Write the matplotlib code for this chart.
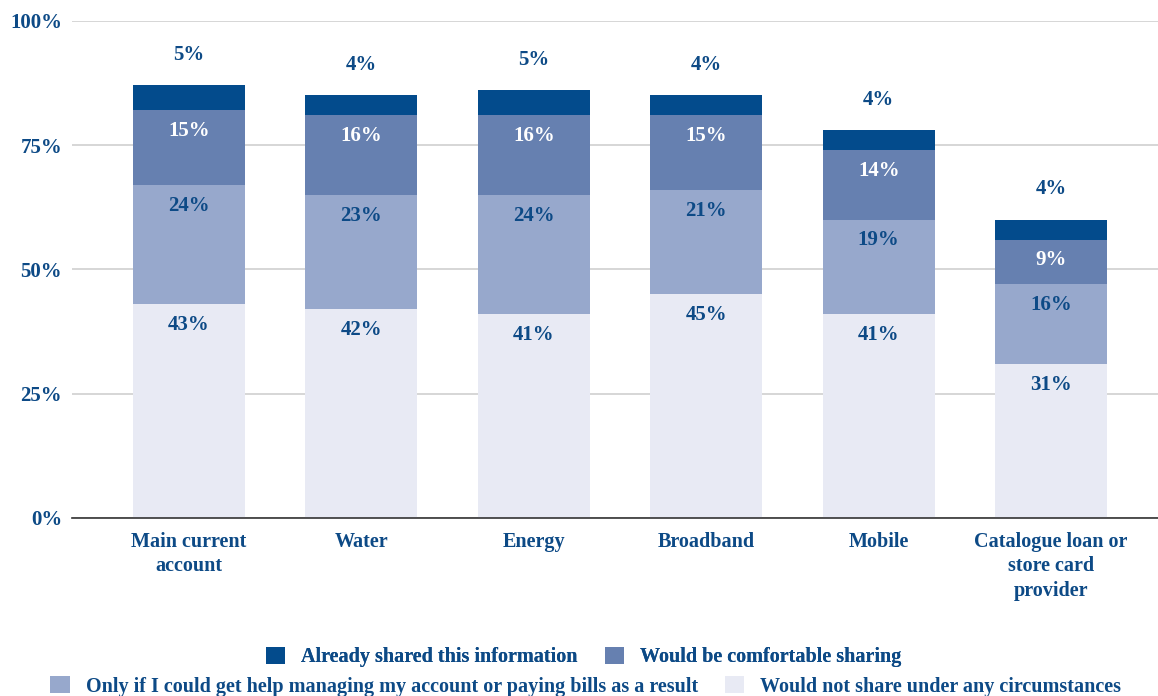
import matplotlib
matplotlib.use("Agg")
import matplotlib.pyplot as plt
from matplotlib.patches import Patch
import numpy as np

categories = ["Main current\naccount", "Water", "Energy", "Broadband", "Mobile",
              "Catalogue loan or\nstore card\nprovider"]
never_share = [43, 42, 41, 45, 41, 31]
only_if_help = [24, 23, 24, 21, 19, 16]
comfortable = [15, 16, 16, 15, 14, 9]
already_shared = [5, 4, 5, 4, 4, 4]

series_names = ["Would not share under any circumstances",
                "Only if I could get help managing my account or paying bills as a result",
                "Would be comfortable sharing",
                "Already shared this information"]
colors = ["#e8eaf4", "#97a8cc", "#6680b0", "#034b8c"]
text_colors = ["#0d4a86", "#0d4a86", "#ffffff", "#0d4a86"]
ytick_vals = [0, 25, 50, 75, 100]
ytick_labels = ["0%", "25%", "50%", "75%", "100%"]

plt.rcParams["font.family"] = ["Liberation Serif", "DejaVu Serif"]
plt.rcParams["font.weight"] = "bold"

fig = plt.figure(figsize=(11.58, 6.96), dpi=100)
ax = fig.add_axes([0.062, 0.256, 0.938, 0.714])

x = np.arange(len(categories))
width = 0.65
series = [never_share, only_if_help, comfortable, already_shared]
bottom = np.zeros(len(categories))
label_col = "#0d4a86"
for i, vals in enumerate(series):
    vals = np.array(vals, dtype=float)
    ax.bar(x, vals, width, bottom=bottom, color=colors[i], zorder=2, linewidth=0)
    tops = bottom + vals
    for xi, top, v in zip(x, tops, vals):
        if i == 3:
            ax.annotate(f"{int(v)}%", (xi, top), xytext=(0, 22), textcoords="offset points",
                        ha="center", va="center", fontsize=15, fontweight="bold", color=label_col)
        else:
            ax.annotate(f"{int(v)}%", (xi, top), xytext=(0, -15), textcoords="offset points",
                        ha="center", va="center", fontsize=15, fontweight="bold", color=text_colors[i])
    bottom = tops

ax.set_xlim(-0.68, 5.62)
ax.set_ylim(0, 100)
ax.set_yticks(ytick_vals)
ax.set_yticklabels(ytick_labels)
ax.set_xticks(x)
ax.set_xticklabels(categories, linespacing=1.3)
ax.tick_params(axis="both", length=0, labelcolor=label_col)
ax.tick_params(axis="y", pad=7, labelsize=15)
ax.tick_params(axis="x", pad=10, labelsize=14.5)
for lab in ax.get_xticklabels() + ax.get_yticklabels():
    lab.set_fontweight("bold")
for s in ["top", "right", "left"]:
    ax.spines[s].set_visible(False)
ax.spines["bottom"].set_color("#333333")
ax.spines["bottom"].set_linewidth(1.2)
ax.spines["bottom"].set_zorder(3)
ax.yaxis.grid(True, color="#d0d0d0", linewidth=1.2, zorder=0)
ax.set_axisbelow(True)

h = [Patch(facecolor=c, edgecolor="none") for c in colors]
leg1 = fig.legend([h[3], h[2]], [series_names[3], series_names[2]], ncol=2,
                  loc="center", bbox_to_anchor=(0.504, 0.056), frameon=False,
                  prop={"size": 14.5, "weight": "bold"}, handlelength=0.95, handleheight=0.95,
                  columnspacing=1.35, handletextpad=0.8)
for t in leg1.get_texts():
    t.set_color(label_col)
fig.add_artist(leg1)
leg2 = fig.legend([h[1], h[0]], [series_names[1], series_names[0]], ncol=2,
                  loc="center", bbox_to_anchor=(0.506, 0.014), frameon=False,
                  prop={"size": 14.5, "weight": "bold"}, handlelength=0.95, handleheight=0.95,
                  columnspacing=1.35, handletextpad=0.8)
for t in leg2.get_texts():
    t.set_color(label_col)

fig.savefig("out.png", dpi=100)
